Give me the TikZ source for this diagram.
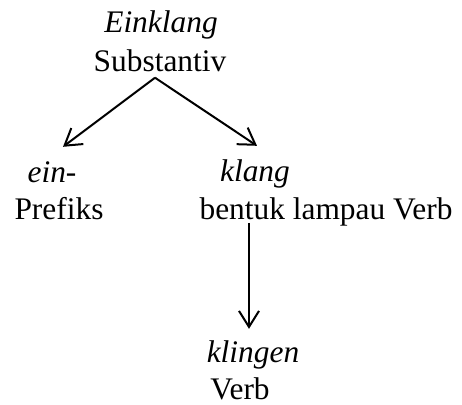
\documentclass[tikz,border=0pt]{standalone}
\usepackage{fontspec}
\setmainfont{Liberation Serif}
\usepackage{tikz}
\usetikzlibrary{arrows.meta,positioning}
\newcommand{\glosssize}{\fontsize{15.7}{19}\selectfont}

\begin{document}
\begin{tikzpicture}[
  x=0.5pt, y=-0.5pt,
  font=\glosssize,
  word/.style={anchor=base, inner sep=2.5pt, font=\glosssize\itshape},
  gloss/.style={anchor=base, inner sep=2.5pt},
  arrow/.style={-{Straight Barb[length=8pt, width=10pt]}, line width=1pt}
]
  \useasboundingbox (0,0) rectangle (462,405);
  \node[word]  (eink)  at (161,33)  {Einklang};
  \node[gloss] (subst) at (160,72)  {Substantiv};
  \node[word]  (ein)   at (52,183)  {ein-};
  \node[gloss] (pref)  at (59,220)  {Prefiks};
  \node[word]  (klang) at (255,182) {klang};
  \node[gloss] (lamp)  at (326,220) {bentuk lampau Verb};
  \node[word]  (kling) at (253,363) {klingen};
  \node[gloss] (verb)  at (240,400) {Verb};
  \draw[arrow] ([xshift=-2.5pt]subst.south) -- ([xshift=5.5pt,yshift=5pt]ein.north);
  \draw[arrow] ([xshift=-2.5pt]subst.south) -- ([xshift=1pt,yshift=4.5pt]klang.north);
  \draw[arrow] ([xshift=-38.5pt,yshift=-1.5pt]lamp.base) -- ([xshift=-2pt,yshift=3.5pt]kling.north);
\end{tikzpicture}
\end{document}
